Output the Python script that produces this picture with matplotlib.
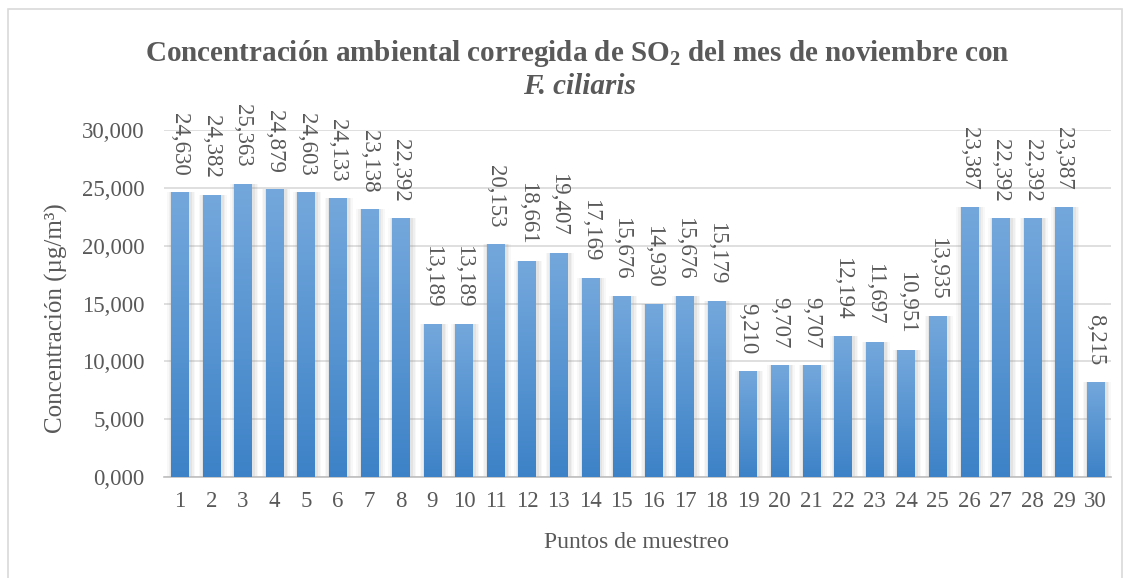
import numpy as np
import matplotlib
matplotlib.use("Agg")
import matplotlib.pyplot as plt
from matplotlib.patches import Rectangle

# ---- data ----
puntos = [str(i) for i in range(1, 31)]
concentracion = [
    24.630, 24.382, 25.363, 24.879, 24.603, 24.133, 23.138, 22.392, 13.189, 13.189,
    20.153, 18.661, 19.407, 17.169, 15.676, 14.930, 15.676, 15.179, 9.210, 9.707,
    9.707, 12.194, 11.697, 10.951, 13.935, 23.387, 22.392, 22.392, 23.387, 8.215,
]
yticks = [0, 5, 10, 15, 20, 25, 30]

plt.rcParams["font.family"] = ["Liberation Serif", "DejaVu Serif"]
plt.rcParams["mathtext.fontset"] = "custom"
plt.rcParams["mathtext.rm"] = "Liberation Serif:bold"

GREY = "#595959"


def fmt(v):
    return f"{v:.3f}".replace(".", ",")


fig = plt.figure(figsize=(11.34, 5.78), dpi=100)
ax = fig.add_axes([0.1446, 0.1747, 0.8354, 0.6003])

x = np.arange(len(puntos))
width = 0.55

# soft shadow behind bars (slightly to the right)
for k, a in [(0.34, 0.05), (0.24, 0.07), (0.14, 0.10)]:
    ax.bar(x + 0.04, concentracion, width=width + k, color="#7f7f7f",
           alpha=a, linewidth=0, zorder=1)

bars = ax.bar(x, concentracion, width=width, color="none", linewidth=0, zorder=3)

# vertical gradient inside each bar
grad = np.linspace(0, 1, 256).reshape(-1, 1)
cmap = matplotlib.colors.LinearSegmentedColormap.from_list(
    "bar", ["#3d82c7", "#74a8dc"])
for b in bars:
    x0, y0 = b.get_x(), b.get_y()
    w, h = b.get_width(), b.get_height()
    im = ax.imshow(grad, cmap=cmap, aspect="auto", origin="lower",
                   extent=[x0, x0 + w, y0, y0 + h], zorder=3)
    im.set_clip_path(b)

# value labels, rotated like Excel's
for xi, v in zip(x, concentracion):
    ax.annotate(fmt(v), (xi, v), xytext=(0, 12), textcoords="offset points",
                rotation=270, ha="center", va="bottom", fontsize=16.5,
                color=GREY)

ax.set_xlim(-0.5, len(puntos) - 0.5)
ax.set_ylim(0, 30)
ax.set_xticks(x)
ax.set_xticklabels(puntos)
ax.set_yticks(yticks)
ax.set_yticklabels([fmt(t) for t in yticks])
ax.tick_params(axis="both", length=0, labelsize=16.5, labelcolor=GREY)
ax.tick_params(axis="x", pad=10)
ax.tick_params(axis="y", pad=14)
ax.grid(axis="y", color="#d9d9d9", linewidth=1.2, zorder=0)
ax.set_axisbelow(True)
for s in ["top", "right", "left"]:
    ax.spines[s].set_visible(False)
ax.spines["bottom"].set_color("#bfbfbf")
ax.spines["bottom"].set_linewidth(1.2)

fig.text(0.050, 0.450, "Concentración (µg/m³)", rotation=90, ha="center",
         va="center", fontsize=18, color=GREY)
fig.text(0.5617, 0.062, "Puntos de muestreo", ha="center", va="center",
         fontsize=17, color=GREY)

fig.text(0.509, 0.908, "Concentración ambiental corregida de SO$_2$ del mes de noviembre con",
         ha="center", va="center", fontsize=21, fontweight="bold", color=GREY)
fig.text(0.511, 0.851, "F. ciliaris", ha="center", va="center", fontsize=21,
         fontweight="bold", fontstyle="italic", color=GREY)

fig.patches.append(Rectangle((8 / 1134, -0.01), (1122 - 8) / 1134, 1 - 9 / 578 + 0.01,
                             transform=fig.transFigure, fill=False,
                             edgecolor="#d9d9d9", linewidth=1.2))

fig.savefig("out.png", dpi=100)
